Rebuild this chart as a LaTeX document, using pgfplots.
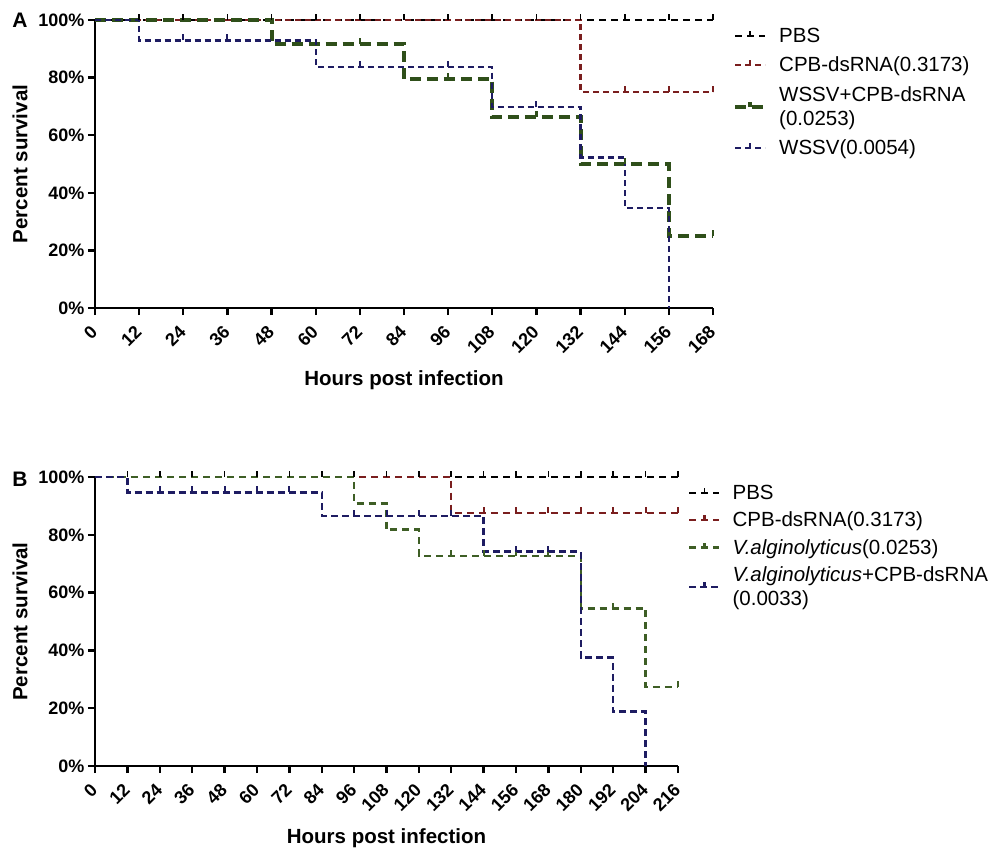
\documentclass[border=0pt]{standalone}
\usepackage{fontspec}
\setmainfont{Liberation Sans}
\usepackage{pgfplots}
\pgfplotsset{compat=1.18}

\definecolor{cred}{HTML}{7A1E1E}
\definecolor{cgreen}{HTML}{2F4F1A}
\definecolor{cgreenb}{HTML}{3E5E25}
\definecolor{cblue}{HTML}{1E1C62}

\pgfdeclareplotmark{cens}{\pgfpathmoveto{\pgfpoint{0pt}{0pt}}\pgfpathlineto{\pgfpoint{0pt}{\pgfplotmarksize}}\pgfusepathqstroke}

\pgfplotsset{
  km/.style={
    scale only axis, clip=false,
    axis lines=left, axis line style={line width=2.6pt, -},
    tick align=outside, major tick length=7pt,
    tick style={line width=2.4pt, black},
    ymin=0, ymax=100, ytick={0,20,...,100},
    yticklabels={0\%,20\%,40\%,60\%,80\%,100\%},
    tick label style={font=\fontsize{18}{20}\selectfont\bfseries},
    xticklabel style={yshift=-13pt, rotate=45, anchor=east, inner sep=1pt},
    every axis y label/.style={at={(axis description cs:0,0.5)}, xshift=-75pt, rotate=90, anchor=center, font=\fontsize{20.5}{24}\selectfont\bfseries},
    every axis x label/.style={at={(axis description cs:0.5,0)}, anchor=center, yshift=-72pt, font=\fontsize{20.5}{24}\selectfont\bfseries},
    ylabel={Percent survival}, xlabel={Hours post infection},
    legend style={draw=none, fill=none, font=\fontsize{20.5}{24}\selectfont, cells={align=left, anchor=west}, column sep=10pt, inner sep=0pt},
    legend cell align=left,
    legend image code/.code={\draw[#1] (0pt,0pt) -- (30pt,0pt); \draw[#1, solid] (15pt,0pt) -- (15pt,5pt);},
  },
  cens/.style={forget plot, only marks, mark=cens, mark size=6pt},
}

\begin{document}
\begin{tikzpicture}
\useasboundingbox (0pt,0pt) rectangle (994pt,-847pt);

% ---------------- Panel A ----------------
\begin{axis}[km,
  at={(95pt,-308pt)}, anchor=south west,
  width=618pt, height=288pt,
  xmin=0, xmax=168, xtick={0,12,...,168},
  xticklabels={0,12,24,36,48,60,72,84,96,108,120,132,144,156,168},
  legend style={at={(1,1)}, anchor=north west, xshift=20pt, yshift=-6pt, row sep=9pt},
]
\addplot[const plot, black, line width=1.6pt, dash pattern=on 7pt off 5pt] coordinates {(0,100) (168,100)};
\addlegendentry{PBS}
\addplot[const plot, cred, line width=2.4pt, dash pattern=on 6pt off 4pt] coordinates {(0,100) (132,75) (168,75)};
\addlegendentry{CPB-dsRNA(0.3173)}
\addplot[const plot, cgreen, line width=4pt, dash pattern=on 11pt off 6pt] coordinates {(0,100) (48,91.5) (84,79.5) (108,66.3) (132,50) (156,25) (168,25)};
\addlegendentry{WSSV+CPB-dsRNA\\(0.0253)}
\addplot[const plot, cblue, line width=2.4pt, dash pattern=on 6pt off 4pt] coordinates {(0,100) (12,92.9) (60,83.6) (108,69.7) (132,52.3) (144,34.8) (156,0)};
\addlegendentry{WSSV(0.0054)}
% censor ticks
\addplot[cens, black, line width=1.6pt] coordinates {(12,100)(24,100)(36,100)(48,100)(60,100)(72,100)(84,100)(96,100)(108,100)(120,100)(132,100)(144,100)(156,100)(168,100)};
\addplot[cens, cred, line width=2pt] coordinates {(144,75)(156,75)(168,75)};
\addplot[cens, cgreen, line width=2.4pt] coordinates {(72,91.5)(96,79.5)(120,66.3)(144,50)(168,25)};
\addplot[cens, cblue, line width=2pt] coordinates {(24,92.9)(36,92.9)(72,83.6)(96,83.6)(120,69.7)};
\node[font=\fontsize{21}{24}\selectfont\bfseries] at (rel axis cs:0,1) [xshift=-75pt] {A};
\end{axis}

% ---------------- Panel B ----------------
\begin{axis}[km,
  at={(95pt,-766pt)}, anchor=south west,
  width=583pt, height=289pt,
  xmin=0, xmax=216, xtick={0,12,...,216},
  xticklabels={0,12,24,36,48,60,72,84,96,108,120,132,144,156,168,180,192,204,216},
  legend style={at={(1,1)}, anchor=north west, xshift=10pt, yshift=-6pt, row sep=7pt},
]
\addplot[const plot, black, line width=1.6pt, dash pattern=on 7pt off 5pt] coordinates {(0,100) (216,100)};
\addlegendentry{PBS}
\addplot[const plot, cred, line width=2.2pt, dash pattern=on 7pt off 5pt] coordinates {(0,100) (132,87.5) (216,87.5)};
\addlegendentry{CPB-dsRNA(0.3173)}
\addplot[const plot, cgreenb, line width=2.4pt, dash pattern=on 7pt off 5pt] coordinates {(0,100) (96,90.9) (108,81.8) (120,72.7) (180,54.5) (204,27.3) (216,27.3)};
\addlegendentry{\textit{V.alginolyticus}(0.0253)}
\addplot[const plot, cblue, line width=2.4pt, dash pattern=on 7pt off 4pt] coordinates {(0,100) (12,94.7) (84,86.6) (144,74.2) (180,37.5) (192,18.8) (204,0)};
\addlegendentry{\textit{V.alginolyticus}+CPB-dsRNA\\(0.0033)}
% censor ticks
\addplot[cens, black, line width=1.6pt] coordinates {(12,100)(24,100)(36,100)(48,100)(60,100)(72,100)(84,100)(96,100)(108,100)(120,100)(132,100)(144,100)(156,100)(168,100)(180,100)(192,100)(204,100)(216,100)};
\addplot[cens, cred, line width=2pt] coordinates {(144,87.5)(156,87.5)(168,87.5)(180,87.5)(192,87.5)(204,87.5)(216,87.5)};
\addplot[cens, cgreenb, line width=2pt] coordinates {(132,72.7)(144,72.7)(156,72.7)(168,72.7)(192,54.5)(216,27.3)};
\addplot[cens, cblue, line width=2pt] coordinates {(24,94.7)(36,94.7)(48,94.7)(60,94.7)(72,94.7)(96,86.6)(108,86.6)(120,86.6)(132,86.6)(156,74.2)(168,74.2)};
\node[font=\fontsize{21}{24}\selectfont\bfseries] at (rel axis cs:0,1) [xshift=-75pt, yshift=-2pt] {B};
\end{axis}
\end{tikzpicture}
\end{document}
